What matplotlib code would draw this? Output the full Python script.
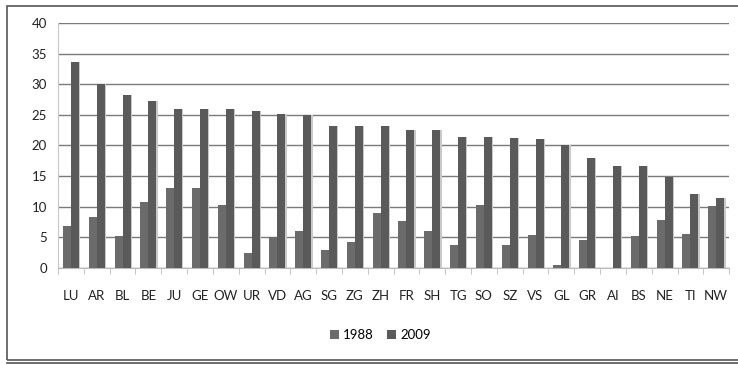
import numpy as np
import matplotlib.pyplot as plt
from matplotlib.patches import Rectangle
from matplotlib.lines import Line2D

plt.rcParams['font.family'] = ['Lato', 'DejaVu Sans']

# Cantons and values per year
cantons = ["LU", "AR", "BL", "BE", "JU", "GE", "OW", "UR", "VD", "AG", "SG", "ZG", "ZH",
           "FR", "SH", "TG", "SO", "SZ", "VS", "GL", "GR", "AI", "BS", "NE", "TI", "NW"]
v1988 = [6.9, 8.3, 5.3, 10.8, 13.1, 13.1, 10.3, 2.4, 5.0, 6.1, 2.9, 4.3, 8.9,
         7.6, 6.0, 3.8, 10.3, 3.8, 5.4, 0.5, 4.5, 0.0, 5.3, 7.9, 5.6, 10.2]
v2009 = [33.7, 30.1, 28.3, 27.2, 25.9, 25.9, 25.9, 25.7, 25.2, 24.9, 23.2, 23.2, 23.2,
         22.6, 22.6, 21.4, 21.4, 21.3, 21.0, 20.0, 17.9, 16.7, 16.7, 14.9, 12.0, 11.5]

fig = plt.figure(figsize=(7.38, 3.65), dpi=100)
ax = fig.add_axes([0.0786, 0.2658, 0.9094, 0.6712])

x = np.arange(len(cantons))
w = 0.31

# light edge on the right of each bar
ax.bar(x - w / 2 + 0.05, v1988, w, color="#c9c9c9", zorder=2)
ax.bar(x + w / 2 + 0.05, v2009, w, color="#c9c9c9", zorder=2)
ax.bar(x - w / 2, v1988, w, color="#6b6b6b", label="1988", zorder=3)
ax.bar(x + w / 2, v2009, w, color="#5a5a5a", label="2009", zorder=3)

ax.set_xlim(-0.5, len(cantons) - 0.5)
ax.set_ylim(0, 40)
ax.set_yticks(range(0, 41, 5))
ax.yaxis.grid(True, color="#7a7a7a", linewidth=1)
ax.set_axisbelow(True)

ax.set_xticks(x)
ax.set_xticklabels(cantons)
ax.set_xticks(np.arange(-0.5, len(cantons)), minor=True)
ax.tick_params(axis="x", which="major", length=0, pad=16, labelsize=9.5, colors="#222222")
ax.tick_params(axis="x", which="minor", length=4, color="#bbbbbb")
ax.tick_params(axis="y", length=0, pad=8, labelsize=9.5, colors="#222222")

for s in ["top", "right"]:
    ax.spines[s].set_visible(False)
ax.spines["left"].set_color("#c8c8c8")
ax.spines["bottom"].set_color("#bbbbbb")

ax.legend(loc="upper center", bbox_to_anchor=(0.48, -0.2), ncol=2, frameon=False,
          handlelength=0.7, handleheight=0.7, handletextpad=0.3, columnspacing=1.0,
          fontsize=9.5)

# outer frame with a doubled bottom edge
fig.patches.append(Rectangle((0.0095, 0.0135), 1.2, 0.971, transform=fig.transFigure,
                             fill=False, edgecolor="#555555", linewidth=1.2))
fig.lines.append(Line2D([0.0095, 1.0], [0.005, 0.005], transform=fig.transFigure,
                        color="#555555", linewidth=1.2))

fig.savefig("out.png", dpi=100)
